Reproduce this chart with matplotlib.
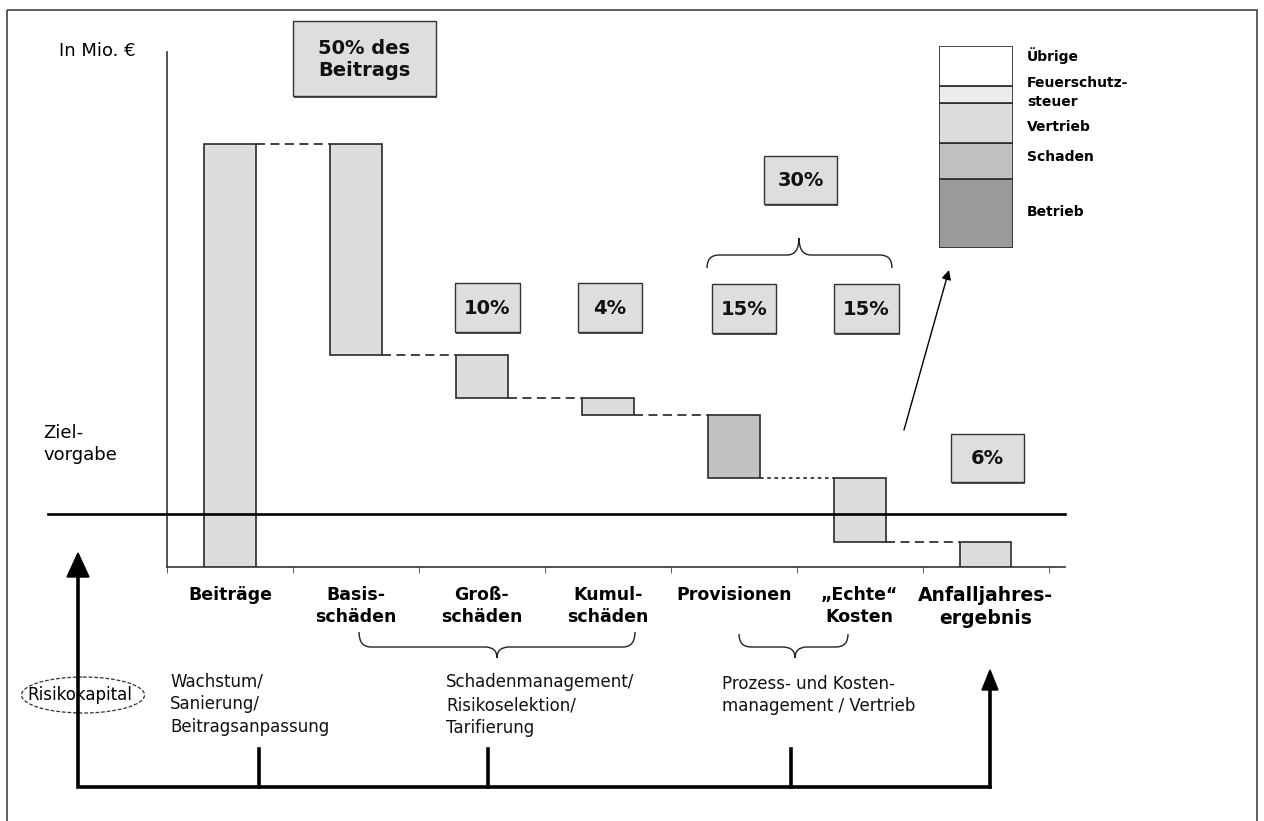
import numpy as np
import matplotlib
matplotlib.use("Agg")
import matplotlib.pyplot as plt
from matplotlib.patches import Rectangle, Ellipse, Polygon, PathPatch
from matplotlib.path import Path
from matplotlib.transforms import blended_transform_factory

plt.rcParams['font.family'] = ['DejaVu Sans']

W, H = 1264, 821

# Wasserfall: Beitrag und Abzüge (in % des Beitrags)
categories = ["Beiträge", "Basis-\nschäden", "Groß-\nschäden", "Kumul-\nschäden",
              "Provisionen", "„Echte“\nKosten", "Anfalljahres-\nergebnis"]
changes = [100, -50, -10, -4, -15, -15]
target = 12.5

# Zusammensetzung der Kosten
cost_parts = ["Betrieb", "Schaden", "Vertrieb", "Feuerschutz-\nsteuer", "Übrige"]
cost_shares = [34, 18, 20, 8, 20]
cost_colors = ["#9b9b9b", "#c0c0c0", "#dddddd", "#ececec", "#ffffff"]

levers = ["Wachstum/\nSanierung/\nBeitragsanpassung",
          "Schadenmanagement/\nRisikoselektion/\nTarifierung",
          "Prozess- und Kosten-\nmanagement / Vertrieb"]

level = np.cumsum(changes)
result = int(level[-1])
bottoms = [0] + list(level[1:]) + [0]
heights = [changes[0]] + [-c for c in changes[1:]] + [result]

fig = plt.figure(figsize=(W / 100, H / 100), dpi=100)

ax = fig.add_axes([167 / W, 1 - 567 / H, (1065 - 167) / W, (567 - 52) / H])
ax.patch.set_alpha(0)
ax.set_zorder(1)

ov = fig.add_axes([0, 0, 1, 1])
ov.set_xlim(0, W)
ov.set_ylim(H, 0)
ov.axis('off')
ov.patch.set_alpha(0)
ov.set_zorder(2)

# Balken
x = np.arange(len(categories)) + 0.5
bw = 0.41
colors = ['#dddddd'] * len(categories)
colors[4] = '#c2c2c2'
ax.bar(x, heights, bottom=bottoms, width=bw, color=colors,
       edgecolor='#2a2a2a', linewidth=1.2, zorder=3)

# Verbindungslinien
for i in range(len(changes)):
    ls = (0, (2, 2)) if i == 4 else (0, (5, 3))
    ax.plot([x[i] + bw / 2, x[i + 1] - bw / 2], [level[i], level[i]],
            color='#333333', lw=1.3, ls=ls, zorder=2)

ax.set_xlim(0, 7.13)
ax.set_ylim(0, 121.7)
for s in ['top', 'right']:
    ax.spines[s].set_visible(False)
for s in ['left', 'bottom']:
    ax.spines[s].set_linewidth(1.2)
    ax.spines[s].set_color('#333333')
ax.set_yticks([])
ax.set_xticks(x)
ax.set_xticklabels(categories, fontsize=12.5, fontweight='bold', linespacing=1.25)
ax.get_xticklabels()[-1].set_fontsize(13.5)
ax.tick_params(axis='x', which='major', length=0, pad=14)
ax.set_xticks(np.arange(8), minor=True)
ax.tick_params(axis='x', which='minor', length=4, direction='out', color='#444444')

# Zielvorgabe
tr = blended_transform_factory(ov.transData, ax.transData)
ov.plot([48, 1065], [target, target], transform=tr, color='black', lw=1.9)

# Prozent-Kästchen
def box(x0, y0, x1, y1, text):
    ov.add_patch(Rectangle((x0 + 1, y0 + 2), x1 - x0, y1 - y0, fc='#555555', ec='none'))
    ov.add_patch(Rectangle((x0, y0), x1 - x0, y1 - y0, fc='#dedede', ec='#333333', lw=1.0))
    ov.text((x0 + x1) / 2, (y0 + y1) / 2 + 1, text, ha='center', va='center',
            multialignment='left', fontsize=14, fontweight='bold', color='#111111',
            linespacing=1.15)

box(293, 21, 436, 96, f"{-changes[1]}% des\nBeitrags")
box(455, 283, 520, 332, f"{-changes[2]}%")
box(578, 283, 642, 332, f"{-changes[3]}%")
box(712, 284, 776, 333, f"{-changes[4]}%")
box(834, 284, 899, 333, f"{-changes[5]}%")
box(764, 156, 837, 204, f"{-(changes[4] + changes[5])}%")
box(951, 434, 1024, 482, f"{result}%")

# geschweifte Klammern
def brace(x0, x1, y_end, y_mid, y_tip, xm, r=12):
    verts = [(x0, y_end), (x0, y_mid), (x0 + r, y_mid),
             (xm - r, y_mid),
             (xm, y_mid), (xm, y_tip),
             (xm, y_mid), (xm + r, y_mid),
             (x1 - r, y_mid),
             (x1, y_mid), (x1, y_end)]
    codes = [Path.MOVETO, Path.CURVE3, Path.CURVE3,
             Path.LINETO,
             Path.CURVE3, Path.CURVE3,
             Path.CURVE3, Path.CURVE3,
             Path.LINETO,
             Path.CURVE3, Path.CURVE3]
    ov.add_patch(PathPatch(Path(verts, codes), fc='none', ec='#222222', lw=1.0))

brace(707, 892, 268, 255, 238, 799)
brace(359, 635, 632, 647, 658, 497)
brace(739, 848, 634, 647, 658, 795)

# Pfeil zur Kostenaufteilung
ov.annotate('', xy=(949, 270), xytext=(904, 430),
            arrowprops=dict(arrowstyle='-|>', lw=1.0, color='black',
                            mutation_scale=14, shrinkA=0, shrinkB=0))

# Kostenaufteilung als gestapelter Balken
axl = fig.add_axes([939 / W, 1 - 248 / H, 74 / W, 202 / H])
axl.set_zorder(3)
stack_bottom = np.concatenate([[0], np.cumsum(cost_shares)[:-1]])
axl.bar(0, cost_shares, bottom=stack_bottom, width=1, color=cost_colors,
        edgecolor='#2a2a2a', linewidth=1.2)
axl.set_xlim(-0.5, 0.5)
axl.set_ylim(0, sum(cost_shares))
axl.axis('off')
trl = blended_transform_factory(ov.transData, axl.transData)
label_shift = [1, 2, -2, 1, 5]
for name, b, h, d in zip(cost_parts, stack_bottom, cost_shares, label_shift):
    ov.text(1027, b + h / 2 + d, name, transform=trl, ha='left', va='center',
            fontsize=10, fontweight='bold', linespacing=1.45)

# Beschriftungen
ov.text(59, 51, "In Mio. €", ha='left', va='center', fontsize=13)
ov.text(43, 444, "Ziel-\nvorgabe", ha='left', va='center', fontsize=13, linespacing=1.35)

ov.text(170, 704, levers[0], ha='left', va='center', fontsize=12, linespacing=1.35, color='#111111')
ov.text(446, 705, levers[1], ha='left', va='center', fontsize=12, linespacing=1.35, color='#111111')
ov.text(722, 695, levers[2], ha='left', va='center', fontsize=12, linespacing=1.35, color='#111111')

# Risikokapital und Hebel-Achse
ov.add_patch(Ellipse((83, 695), 123, 36, fc='none', ec='#333333', lw=0.9, ls=(0, (3, 1.5))))
ov.plot([78, 78, 990], [574, 787, 787], color='black', lw=2.6,
        solid_joinstyle='miter', solid_capstyle='projecting')
ov.add_patch(Polygon([(67, 577), (89, 577), (78, 553)], closed=True, fc='black', ec='black'))
for tx in [259, 488, 791]:
    ov.plot([tx, tx], [749, 787], color='black', lw=2.6)
ov.plot([990, 990], [787, 688], color='black', lw=2.6)
ov.add_patch(Polygon([(982, 690), (998, 690), (990, 670)], closed=True, fc='black', ec='black'))
ov.text(80, 695, "Risikokapital", ha='center', va='center', fontsize=12)

# Rahmen
ov.add_patch(Rectangle((7, 10), 1250, 830, fc='none', ec='#444444', lw=1.2, clip_on=False))

fig.savefig("out.png", dpi=100)
